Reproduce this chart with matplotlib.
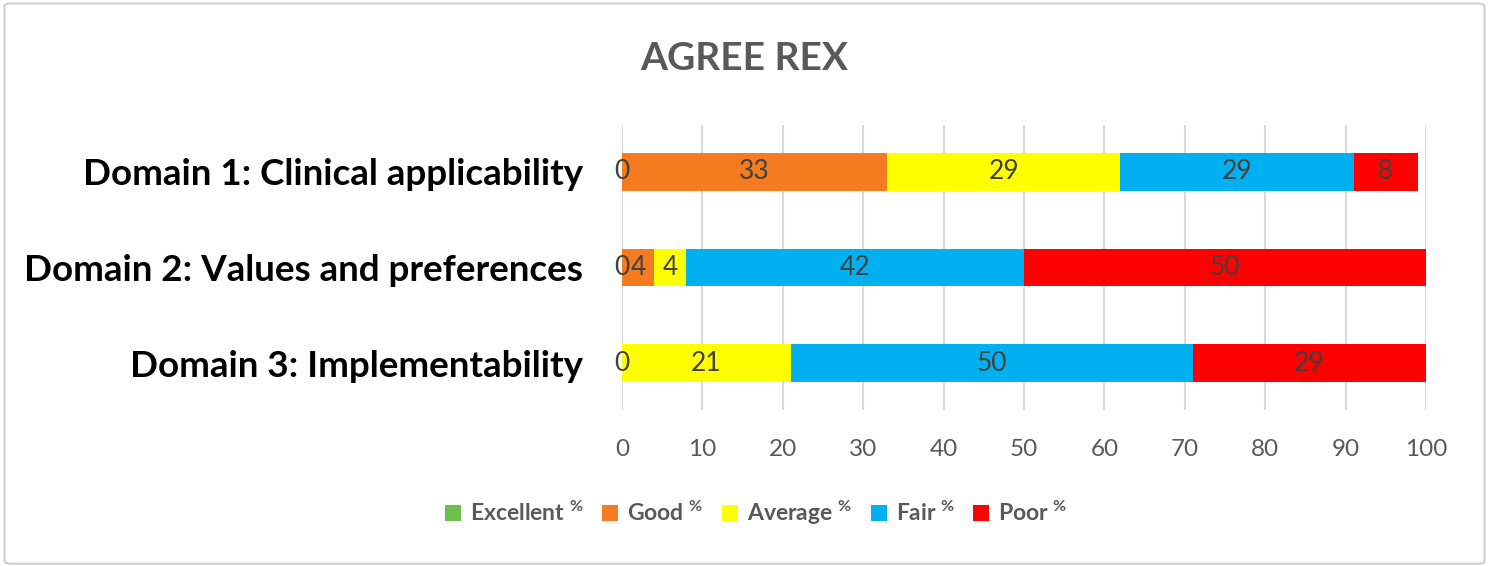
import matplotlib
matplotlib.use("Agg")
import matplotlib.pyplot as plt
from matplotlib.patches import FancyBboxPatch

categories = ["Domain 1: Clinical applicability",
              "Domain 2: Values and preferences",
              "Domain 3: Implementability"]
series_names = ["Excellent", "Good", "Average", "Fair", "Poor"]
excellent = [0, 0, 0]
good = [33, 4, 0]
average = [29, 4, 21]
fair = [29, 42, 50]
poor = [8, 50, 29]
# which labels are shown (Good of Domain 3 has no label)
good_labels = ["33", "4", ""]
tick_values = [0, 10, 20, 30, 40, 50, 60, 70, 80, 90, 100]

colors = ["#6CC04A", "#F47B20", "#FFFF00", "#00B0F0", "#FF0000"]

plt.rcParams['font.family'] = ['Lato', 'DejaVu Sans']

fig = plt.figure(figsize=(14.89, 5.66), dpi=100)
ax = fig.add_axes([622/1489, 1-410/566, 804/1489, 285/566])

data = [excellent, good, average, fair, poor]
ypos = list(range(len(categories)))
left = [0]*len(categories)
for name, vals, col in zip(series_names, data, colors):
    bars = ax.barh(ypos, vals, left=left, height=0.39, color=col,
                   label=name + r" $\mathregular{^{\%}}$", zorder=3)
    if name == "Good":
        labels = good_labels
    else:
        labels = [str(v) for v in vals]
    ax.bar_label(bars, labels=labels, label_type='center', fontsize=19,
                 color="#404040", zorder=4)
    left = [l + v for l, v in zip(left, vals)]

ax.set_xlim(0, 100)
ax.set_ylim(2.49, -0.49)
ax.set_xticks(tick_values)
ax.set_yticks(ypos)
ax.set_yticklabels(categories, fontsize=26.5, fontweight='bold', color='black')
ax.tick_params(axis='x', labelsize=17.5, labelcolor='#595959', length=0, pad=21)
ax.tick_params(axis='y', length=0, pad=28)
ax.grid(axis='x', color='#D9D9D9', linewidth=1.5, zorder=0)
for s in ax.spines.values():
    s.set_visible(False)

fig.text(0.5, 1-58/566, "AGREE REX", ha='center', va='center', fontsize=28,
         fontweight='bold', color='#595959')

leg = fig.legend(loc='center', bbox_to_anchor=(0.508, 1-513/566), ncol=5,
                 frameon=False, fontsize=16.5, handlelength=0.7, handleheight=0.7,
                 handletextpad=0.4, columnspacing=0.8)
for t in leg.get_texts():
    t.set_color('#595959')
    t.set_fontweight('bold')

fig.patches.append(FancyBboxPatch((0.003, 0.004), 0.994, 0.99,
                                  boxstyle="round,pad=0,rounding_size=0.005",
                                  transform=fig.transFigure, fill=False,
                                  edgecolor='#D0D0D0', linewidth=1.5))
fig.savefig("out.png", dpi=100)
